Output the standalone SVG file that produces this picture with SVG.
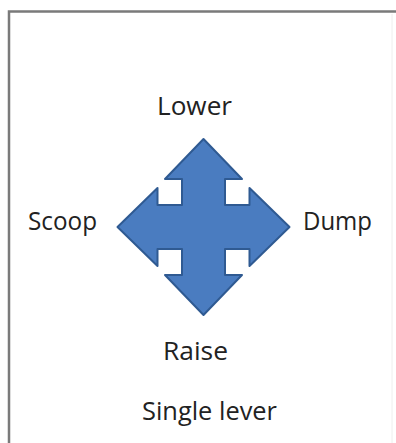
<svg xmlns="http://www.w3.org/2000/svg" width="396" height="443" viewBox="0 0 396 443">
<style>
.lbl{font-family:"Open Sans","Noto Sans",sans-serif;font-size:25px;fill:#222;}
.frame{fill:none;stroke:#7a7a7a;stroke-width:2.5;}
.arrow{fill:#4a7cc0;stroke:#2f5a92;stroke-width:2;stroke-linejoin:round;}
</style>
<rect width="396" height="443" fill="#ffffff"/>
<g id="frame">
<path class="frame" d="M9,443 V11.5 H396"/>
<line x1="392" y1="14" x2="392" y2="443" stroke="#eeeeee" stroke-width="1"/>
</g>
<g id="quad-arrow">
<path class="arrow" d="M203.5,139 L242,179 L225,179 L225,205 L249.5,205 L249.5,188 L289.5,227 L249.5,266 L249.5,249 L225,249 L225,275 L242,275 L203.5,315 L165,275 L182,275 L182,249 L157.5,249 L157.5,266 L117.5,227 L157.5,188 L157.5,205 L182,205 L182,179 L165,179 Z"/>
</g>
<g id="label-lower"><text class="lbl" x="157" y="115" textLength="75" lengthAdjust="spacingAndGlyphs">Lower</text></g>
<g id="label-scoop"><text class="lbl" x="28" y="230" textLength="69" lengthAdjust="spacingAndGlyphs">Scoop</text></g>
<g id="label-dump"><text class="lbl" x="303" y="230" textLength="69" lengthAdjust="spacingAndGlyphs">Dump</text></g>
<g id="label-raise"><text class="lbl" x="163" y="360" textLength="65" lengthAdjust="spacingAndGlyphs">Raise</text></g>
<g id="label-single"><text class="lbl" x="142" y="420" textLength="135" lengthAdjust="spacingAndGlyphs">Single lever</text></g>
</svg>
